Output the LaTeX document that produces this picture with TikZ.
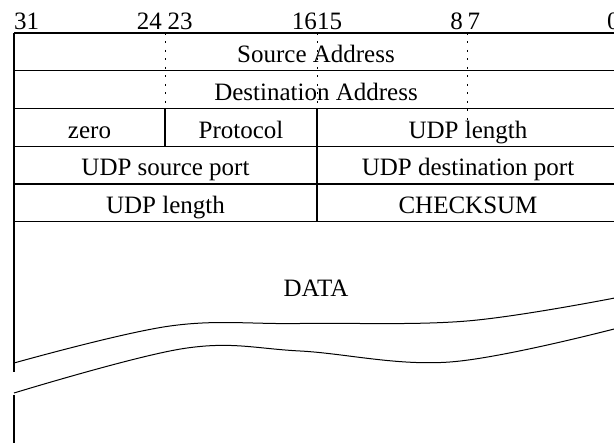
\documentclass[tikz,border=0pt]{standalone}
\usepackage{fontspec}
\setmainfont{Liberation Serif}
\begin{document}
\begin{tikzpicture}[x=1pt,y=-1pt,
  lbl/.style={inner sep=0pt,anchor=base,font=\fontsize{25}{30}\selectfont},
  rule/.style={line width=1.1pt,black},
  dotline/.style={line width=0.9pt,dash pattern=on 2pt off 6.5pt},
  wave/.style={line width=1.0pt}]
\useasboundingbox (0,0) rectangle (614,443);
\clip (0,0) rectangle (614,443);
% header bit numbers
\node[lbl,anchor=base west] (b31) at (14,30) {31};
\node[lbl,anchor=base east] (b24) at (162,30) {24};
\node[lbl,anchor=base west] (b23) at (167.5,30) {23};
\node[lbl,anchor=base east] (b16) at (317,30) {16};
\node[lbl,anchor=base west] (b15) at (317,30) {15};
\node[lbl,anchor=base east] (b8) at (463,30) {8};
\node[lbl,anchor=base west] (b7) at (467.5,30) {7};
\node[lbl,anchor=base west] (b0) at (607,30) {0};
% horizontal rules
\foreach \yy in {33,70.75,108.5,146.25,184,221.75}
  \draw[rule] (14,\yy) -- (625,\yy);
% left border
\draw[rule] (14,33) -- (14,372);
\draw[rule] (14,395) -- (14,450);
% dotted dividers
\draw[dotline] (165,33) -- (165,108.5);
\draw[dotline] (317,33) -- (317,108.5);
\draw[dotline] (467,33) -- (467,121);
% solid dividers
\draw[rule] (165,108.5) -- (165,146.25);
\draw[rule] (317,108.5) -- (317,221.75);
% field labels
\node[lbl] (src) at (316,63) {Source Address};
\node[lbl] (dst) at (316,100.5) {Destination Address};
\node[lbl] (zero) at (89.5,138.3) {zero};
\node[lbl] (proto) at (241,138.3) {Protocol};
\node[lbl] (len1) at (468,138.3) {UDP length};
\node[lbl] (sport) at (165.5,176) {UDP source port};
\node[lbl] (dport) at (468,176) {UDP destination port};
\node[lbl] (len2) at (165.5,213.7) {UDP length};
\node[lbl] (cks) at (468,213.7) {CHECKSUM};
\node[lbl] (data) at (316,296.7) {DATA};
% break curves
\draw[wave] plot[smooth,tension=0.6] coordinates {(14,363) (170,326) (300,323.5) (467,321) (620,297)};
\draw[wave] plot[smooth,tension=0.6] coordinates {(14,393) (185,348.3) (300,351) (450,362) (620,327.5)};
\end{tikzpicture}
\end{document}
